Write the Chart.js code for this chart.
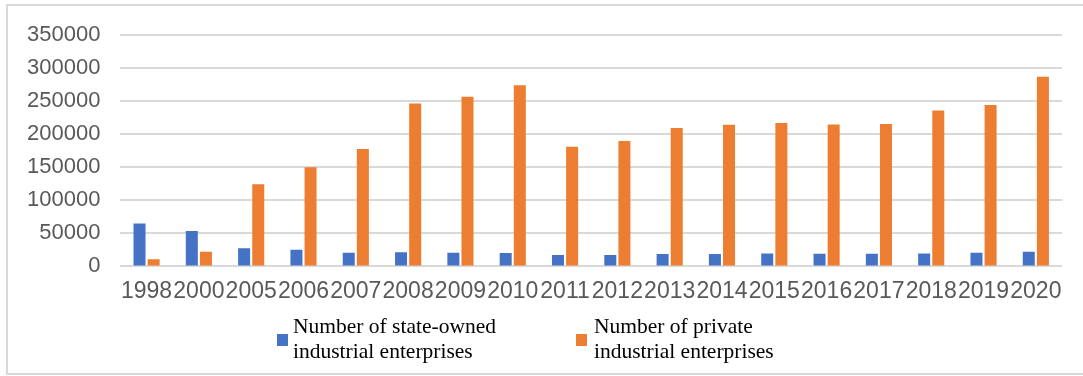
<!DOCTYPE html>
<html>
<head>
<meta charset="utf-8">
<script src="https://cdn.jsdelivr.net/npm/chart.js@4/dist/chart.umd.min.js"></script>
<style>
  html, body { margin: 0; padding: 0; background: #fff; }
  #wrap { position: relative; width: 1083px; height: 376px; overflow: hidden; }
  #frame { position: absolute; left: 6px; top: 4px; width: 1100px; height: 371px; border: 2px solid #d9d9d9; box-sizing: border-box; pointer-events: none; }
  canvas { position: absolute; left: 0; top: 0; }
  .leg { position: absolute; font-family: "Liberation Serif", "Times New Roman", serif; font-size: 21.5px; line-height: 25px; color: #000; }
  .box { position: absolute; width: 11px; height: 12px; }
</style>
</head>
<body>
<div id="wrap">
  <canvas id="c" width="1083" height="376"></canvas>
  <div id="frame"></div>
  <div id="legend"></div>
</div>
<script>
const categories = ["1998","2000","2005","2006","2007","2008","2009","2010","2011","2012","2013","2014","2015","2016","2017","2018","2019","2020"];
const stateOwned = [64700, 53500, 27500, 25000, 20700, 21300, 20500, 20300, 17100, 17200, 18600, 18800, 19300, 19000, 19000, 19300, 20700, 22100];
const privateEnt = [10700, 22100, 123800, 149700, 177100, 245900, 256000, 273300, 180600, 189300, 208700, 213800, 216500, 214300, 215100, 235400, 243600, 286400];
const seriesNames = [["Number of state-owned", "industrial enterprises"], ["Number of private", "industrial enterprises"]];
const seriesColors = ["#4472C4", "#ED7D31"];
const yTicks = [0, 50000, 100000, 150000, 200000, 250000, 300000, 350000];

const ctx = document.getElementById('c');
new Chart(ctx, {
  type: 'bar',
  data: {
    labels: categories,
    datasets: [
      { label: seriesNames[0].join(' '), data: stateOwned, backgroundColor: seriesColors[0], categoryPercentage: 0.54, barPercentage: 0.85 },
      { label: seriesNames[1].join(' '), data: privateEnt, backgroundColor: seriesColors[1], categoryPercentage: 0.54, barPercentage: 0.85 }
    ]
  },
  options: {
    responsive: false,
    animation: false,
    layout: { padding: { left: 7, right: 21, top: 34.5, bottom: 59 } },
    plugins: { legend: { display: false }, tooltip: { enabled: false } },
    scales: {
      x: {
        grid: { display: false, drawTicks: false },
        border: { display: false },
        ticks: { autoSkip: false, maxRotation: 0, minRotation: 0, padding: 11.5, color: '#595959',
                 font: { family: '"Liberation Sans", Arial, sans-serif', size: 23 } }
      },
      y: {
        min: 0, max: 350000,
        afterBuildTicks: (axis) => { axis.ticks = yTicks.map(v => ({ value: v })); },
        grid: { color: '#d9d9d9', lineWidth: 2, drawTicks: false },
        border: { display: false },
        ticks: { padding: 20, color: '#595959',
                 font: { family: '"Liberation Sans", Arial, sans-serif', size: 22 },
                 callback: (v) => String(v) }
      }
    }
  }
});

const legend = document.getElementById('legend');
const legPos = [{ box: 277, text: 293 }, { box: 576, text: 594 }];
seriesNames.forEach((lines, i) => {
  const b = document.createElement('div');
  b.className = 'box';
  b.style.left = legPos[i].box + 'px';
  b.style.top = '334px';
  b.style.background = seriesColors[i];
  legend.appendChild(b);
  const t = document.createElement('div');
  t.className = 'leg';
  t.style.left = legPos[i].text + 'px';
  t.style.top = '314px';
  t.innerHTML = lines.join('<br>');
  legend.appendChild(t);
});
</script>
</body>
</html>
